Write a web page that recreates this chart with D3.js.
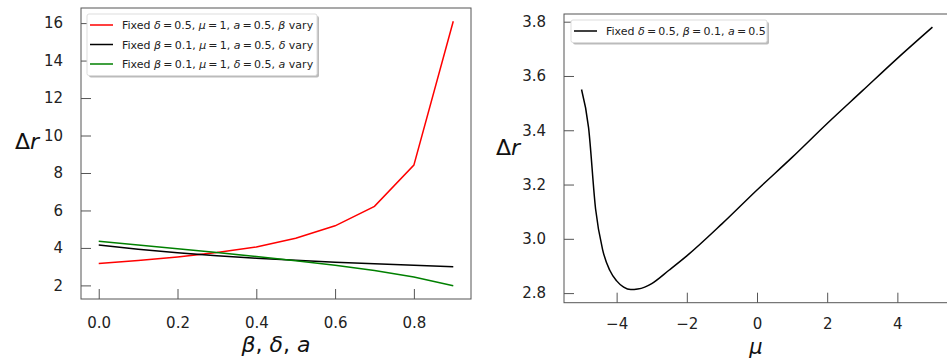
<!DOCTYPE html>
<html>
<head>
<meta charset="utf-8">
<script src="https://cdn.jsdelivr.net/npm/d3@7"></script>
<style>
  body { margin: 0; background: #fff; }
  svg { display: block; font-family: "DejaVu Sans", sans-serif; }
</style>
</head>
<body>
<svg width="947" height="363"></svg>
<script>
// left panel: parameter sweep
const paramX = [0, 0.1, 0.2, 0.3, 0.4, 0.5, 0.6, 0.7, 0.8, 0.9];
const betaVary  = [3.17, 3.33, 3.52, 3.75, 4.05, 4.52, 5.18, 6.22, 8.42, 16.1];
const deltaVary = [4.15, 3.93, 3.74, 3.58, 3.45, 3.34, 3.24, 3.15, 3.07, 3.0];
const aVary     = [4.35, 4.15, 3.95, 3.75, 3.54, 3.32, 3.08, 2.8, 2.45, 1.98];
const leftXTicks = [0, 0.2, 0.4, 0.6, 0.8];
const leftYTicks = [2, 4, 6, 8, 10, 12, 14, 16];

// right panel: mu sweep
const muX = [-5, -4.8, -4.6, -4.4, -4.2, -4, -3.8, -3.6, -3.4, -3.2, -3, -2.5, -2, -1, 0, 1, 2, 3, 4, 5];
const muR = [3.55, 3.41, 3.11, 2.96, 2.885, 2.845, 2.822, 2.813, 2.815, 2.822, 2.835, 2.885, 2.937, 3.055, 3.18, 3.3, 3.425, 3.545, 3.665, 3.78];
const rightXTicks = [-4, -2, 0, 2, 4];
const rightYTicks = [2.8, 3.0, 3.2, 3.4, 3.6, 3.8];

const svg = d3.select("svg");
const SPINE = "#555";

function padded(vals){
    // matplotlib style 5% margins
    let lo = d3.min(vals), hi = d3.max(vals);
    let m = (hi - lo) * 0.05;
    return [lo - m, hi + m];
}

function drawAxes(box, x, y, xt, yt, fmtX, fmtY, xPad){
    let g = svg.append("g");
    g.append("rect")
        .attr("x", box.left).attr("y", box.top)
        .attr("width", box.right - box.left).attr("height", box.bottom - box.top)
        .attr("fill", "none").attr("stroke", SPINE).attr("stroke-width", 1);

    let xa = g.append("g")
        .attr("transform", `translate(0,${box.bottom})`)
        .call(d3.axisBottom(x).tickValues(xt).tickFormat(fmtX).tickSizeInner(-10).tickSizeOuter(0).tickPadding(xPad));
    let ya = g.append("g")
        .attr("transform", `translate(${box.left},0)`)
        .call(d3.axisLeft(y).tickValues(yt).tickFormat(fmtY).tickSizeInner(-10).tickSizeOuter(0).tickPadding(18));
    [xa, ya].forEach(a => {
        a.select(".domain").remove();
        a.selectAll("line").attr("stroke", SPINE).attr("stroke-width", 1);
        a.selectAll("text").attr("fill", "#222").style("font-size", "15px")
            .style("font-family", "DejaVu Sans");
    });
    return g;
}

function drawLegend(x0, y0, w, rows){
    let rowH = 19.5;
    let h = rows.length * rowH + 3;
    let g = svg.append("g");
    g.append("rect")
        .attr("x", x0 + 2).attr("y", y0 + 2).attr("width", w).attr("height", h)
        .attr("rx", 2).attr("fill", "#bbb");
    g.append("rect")
        .attr("x", x0).attr("y", y0).attr("width", w).attr("height", h)
        .attr("rx", 2).attr("fill", "#fff").attr("stroke", "#ddd").attr("stroke-width", 1);
    rows.forEach((r, i) => {
        let cy = y0 + 11 + i * rowH;
        g.append("line")
            .attr("x1", x0 + 3).attr("x2", x0 + 26).attr("y1", cy).attr("y2", cy)
            .attr("stroke", r.color).attr("stroke-width", 1.5);
        let t = g.append("text")
            .attr("x", x0 + 35).attr("y", cy + 4)
            .attr("fill", "#222").style("font-size", "11px");
        r.parts.forEach(p => {
            t.append("tspan").text(p[0]).style("font-style", p[1] ? "italic" : "normal");
        });
    });
}

// ---------- left panel ----------
const boxL = {left: 81, right: 471, top: 8, bottom: 299};
const xL = d3.scaleLinear().domain(padded(paramX)).range([boxL.left, boxL.right]);
const yL = d3.scaleLinear().domain(padded(betaVary.concat(deltaVary, aVary))).range([boxL.bottom, boxL.top]);
drawAxes(boxL, xL, yL, leftXTicks, leftYTicks, d3.format(".1f"), d3.format("d"), 18);

const lineL = d3.line().x((d, i) => xL(paramX[i])).y(d => yL(d));
[[betaVary, "#ff0000"], [deltaVary, "#000"], [aVary, "#008000"]].forEach(s => {
    svg.append("path").datum(s[0])
        .attr("d", lineL).attr("fill", "none")
        .attr("stroke", s[1]).attr("stroke-width", 1.5);
});

const eq = "\u2009=\u2009";
drawLegend(87, 14, 230, [
    {color: "#ff0000", parts: [["Fixed ", 0], ["δ", 1], [eq + "0.5, ", 0], ["μ", 1], [eq + "1, ", 0], ["a", 1], [eq + "0.5, ", 0], ["β", 1], [" vary", 0]]},
    {color: "#000", parts: [["Fixed ", 0], ["β", 1], [eq + "0.1, ", 0], ["μ", 1], [eq + "1, ", 0], ["a", 1], [eq + "0.5, ", 0], ["δ", 1], [" vary", 0]]},
    {color: "#008000", parts: [["Fixed ", 0], ["β", 1], [eq + "0.1, ", 0], ["μ", 1], [eq + "1, ", 0], ["δ", 1], [eq + "0.5, ", 0], ["a", 1], [" vary", 0]]}
]);

svg.append("text").attr("x", 27).attr("y", 149).attr("text-anchor", "middle")
    .style("font-size", "22px").attr("fill", "#111")
    .call(t => { t.append("tspan").text("Δ"); t.append("tspan").text("r").style("font-style", "italic"); });

svg.append("text").attr("x", 276).attr("y", 352).attr("text-anchor", "middle")
    .style("font-size", "22px").attr("fill", "#111")
    .call(t => {
        [["β", 1], [", ", 0], ["δ", 1], [", ", 0], ["a", 1]].forEach(p =>
            t.append("tspan").text(p[0]).style("font-style", p[1] ? "italic" : "normal"));
    });

// ---------- right panel ----------
const boxR = {left: 564, right: 950, top: 14, bottom: 302.7};
const xR = d3.scaleLinear().domain(padded(muX)).range([boxR.left, boxR.right]);
const yR = d3.scaleLinear().domain(padded(muR)).range([boxR.bottom, boxR.top]);
drawAxes(boxR, xR, yR, rightXTicks, rightYTicks, d => d3.format("d")(d).replace("-", "\u2212"), d3.format(".1f"), 16);

svg.append("path").datum(muR)
    .attr("d", d3.line().curve(d3.curveMonotoneX).x((d, i) => xR(muX[i])).y(d => yR(d)))
    .attr("fill", "none").attr("stroke", "#000").attr("stroke-width", 1.5);

drawLegend(571, 20, 196, [
    {color: "#000", parts: [["Fixed ", 0], ["δ", 1], [eq + "0.5, ", 0], ["β", 1], [eq + "0.1, ", 0], ["a", 1], [eq + "0.5", 0]]}
]);

svg.append("text").attr("x", 508).attr("y", 155).attr("text-anchor", "middle")
    .style("font-size", "22px").attr("fill", "#111")
    .call(t => { t.append("tspan").text("Δ"); t.append("tspan").text("r").style("font-style", "italic"); });

svg.append("text").attr("x", 756).attr("y", 354).attr("text-anchor", "middle")
    .style("font-size", "21px").style("font-style", "italic").attr("fill", "#111").text("μ");
</script>
</body>
</html>
